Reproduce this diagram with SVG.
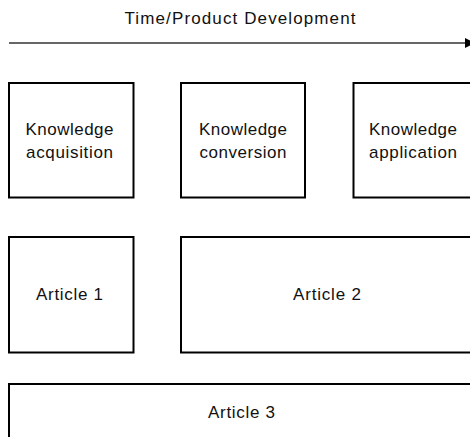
<svg xmlns="http://www.w3.org/2000/svg" width="470" height="437" viewBox="0 0 470 437">
<style>
.box{fill:#fff;stroke:#000;stroke-width:2}
.t{font-family:"Liberation Sans",Arial,sans-serif;font-size:17px;fill:#111;text-anchor:middle}
.line{stroke:#333;stroke-width:1.5;fill:none}
</style>
<defs>
<marker id="ah" markerWidth="10" markerHeight="10" refX="9" refY="5" orient="auto" markerUnits="userSpaceOnUse">
<path d="M0,0 L10,5 L0,10 Z" fill="#000"/>
</marker>
</defs>
<rect width="470" height="437" fill="#fff"/>
<g id="connectors">
<line class="line" x1="9" y1="43" x2="474" y2="43" marker-end="url(#ah)"/>
</g>
<text class="t" x="240" y="24" textLength="231" lengthAdjust="spacing">Time/Product Development</text>
<g id="n1"><rect class="box" x="9" y="83" width="124.5" height="114.5"/>
<text class="t" x="69.5" y="135" textLength="88" lengthAdjust="spacing">Knowledge</text>
<text class="t" x="69.5" y="158" textLength="87" lengthAdjust="spacing">acquisition</text></g>
<g id="n2"><rect class="box" x="181" y="83" width="124" height="114.5"/>
<text class="t" x="243" y="135" textLength="88" lengthAdjust="spacing">Knowledge</text>
<text class="t" x="243" y="158" textLength="87" lengthAdjust="spacing">conversion</text></g>
<g id="n3"><rect class="box" x="353.5" y="83" width="124" height="114.5"/>
<text class="t" x="413" y="135" textLength="88" lengthAdjust="spacing">Knowledge</text>
<text class="t" x="413" y="158" textLength="88" lengthAdjust="spacing">application</text></g>
<g id="a1"><rect class="box" x="9" y="237" width="124.5" height="115.5"/>
<text class="t" x="69.5" y="300" textLength="67" lengthAdjust="spacing">Article 1</text></g>
<g id="a2"><rect class="box" x="181" y="237" width="300" height="115.5"/>
<text class="t" x="327" y="300" textLength="68" lengthAdjust="spacing">Article 2</text></g>
<g id="a3"><rect class="box" x="9" y="384" width="472" height="70"/>
<text class="t" x="241.5" y="417.5" textLength="67" lengthAdjust="spacing">Article 3</text></g>
</svg>
